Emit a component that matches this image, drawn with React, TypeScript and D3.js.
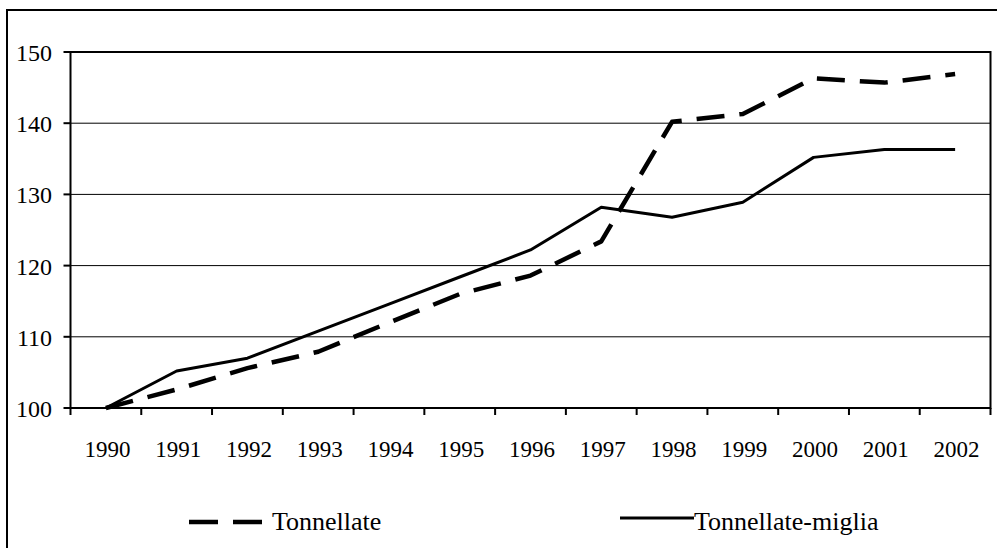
import React from "react";
import * as d3 from "d3";

const years = ["1990","1991","1992","1993","1994","1995","1996","1997","1998","1999","2000","2001","2002"];
const tonnellate = [100, 102.6, 105.6, 107.9, 112.0, 116.0, 118.6, 123.4, 140.2, 141.3, 146.3, 145.7, 146.9];
const tonnellateMiglia = [100, 105.2, 107.0, 110.8, 114.6, 118.4, 122.2, 128.2, 126.8, 128.9, 135.2, 136.3, 136.3];
const yTicks = [100, 110, 120, 130, 140, 150];

const W = 997, H = 548;
const left = 70.5, right = 990.5, top = 52, bottom = 408;
const FONT = "Liberation Serif";

export default function App() {
  const x = d3.scaleBand().domain(years).range([left, right]).paddingInner(0).paddingOuter(0);
  const y = d3.scaleLinear().domain([100, 150]).range([bottom, top]);
  const cx = (d: string) => (x(d) as number) + x.bandwidth() / 2;
  const line = d3.line<number>().x((_, i) => cx(years[i])).y((v) => y(v));
  const boundaries = years.map((d) => x(d) as number).concat([right]);

  return (
    <svg width={W} height={H} style={{ position: "absolute", left: 0, top: 0, background: "#fff" }}>
      <rect x={7} y={10} width={1000} height={560} fill="#fff" stroke="#000" strokeWidth={2} />
      {yTicks.filter((t) => t !== 100 && t !== 150).map((t) => (
        <line key={t} x1={left} x2={right} y1={y(t)} y2={y(t)} stroke="#000" strokeWidth={1} />
      ))}
      <rect x={left} y={top} width={right - left} height={bottom - top} fill="none" stroke="#000" strokeWidth={2} />
      {yTicks.map((t) => (
        <g key={t}>
          <line x1={left - 7} x2={left} y1={y(t)} y2={y(t)} stroke="#000" strokeWidth={2} />
          <text x={52} y={y(t) + 9} textAnchor="end" fontFamily={FONT} fontSize={24} fill="#000">{t}</text>
        </g>
      ))}
      {boundaries.map((b, i) => (
        <line key={i} x1={b} x2={b} y1={bottom} y2={bottom + 7} stroke="#000" strokeWidth={2} />
      ))}
      {years.map((d) => (
        <text key={d} x={cx(d) + 1.5} y={457} textAnchor="middle" fontFamily={FONT} fontSize={23} fill="#000">{d}</text>
      ))}
      <path d={line(tonnellateMiglia) as string} fill="none" stroke="#000" strokeWidth={3} strokeLinejoin="round" />
      <path d={line(tonnellate) as string} fill="none" stroke="#000" strokeWidth={4.5} strokeDasharray="28 15" strokeLinejoin="round" />
      <line x1={189} x2={262} y1={522} y2={522} stroke="#000" strokeWidth={4.5} strokeDasharray="29 15" />
      <text x={272} y={530} fontFamily={FONT} fontSize={26} fill="#000">Tonnellate</text>
      <line x1={620} x2={694} y1={518} y2={518} stroke="#000" strokeWidth={3} />
      <text x={694} y={530} fontFamily={FONT} fontSize={26} fill="#000">Tonnellate-miglia</text>
    </svg>
  );
}
